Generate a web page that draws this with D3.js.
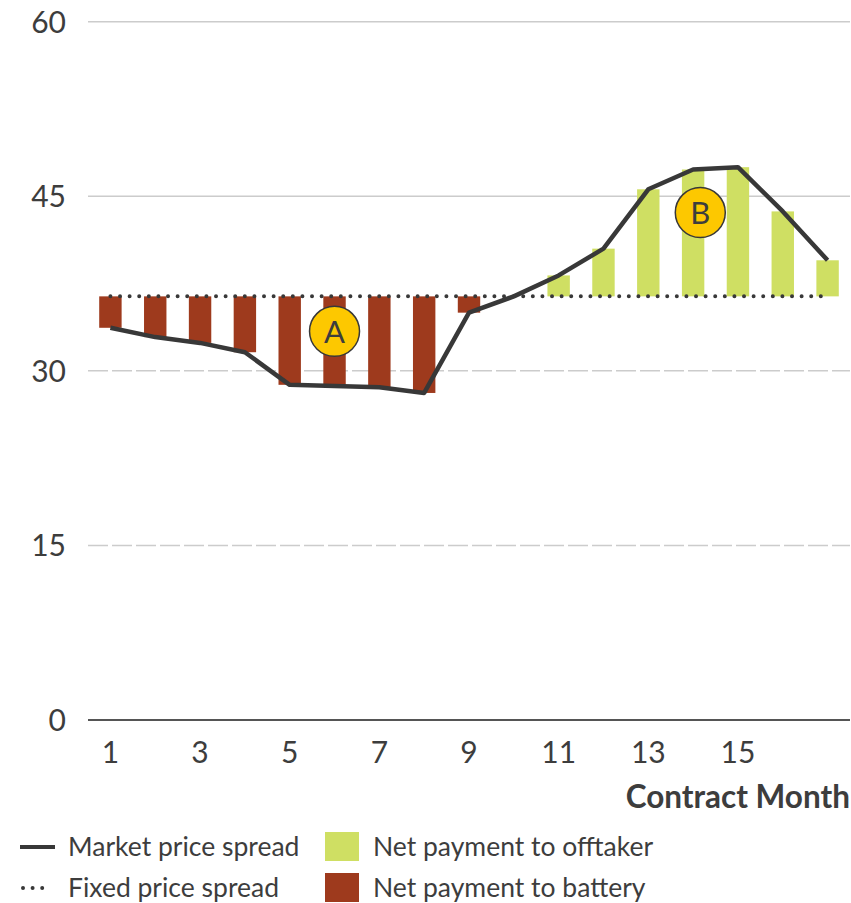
<!DOCTYPE html>
<html>
<head>
<meta charset="utf-8">
<script src="https://cdn.jsdelivr.net/npm/d3@7"></script>
<style>
  body { margin: 0; background: #fff; }
  text { font-family: Lato, "Open Sans", sans-serif; fill: #3d3d3d; }
</style>
</head>
<body>
<script>
// chart data
const months = d3.range(1, 18)
const marketSpread = [33.7, 32.9, 32.4, 31.6, 28.8, 28.7, 28.6, 28.1, 35.0, 36.4,
                      38.2, 40.5, 45.6, 47.3, 47.5, 43.7, 39.5]
const fixedSpread = 36.4
const yTicks = [0, 15, 30, 45, 60]
const xTickLabels = [1, 3, 5, 7, 9, 11, 13, 15]
const annotations = [
  { label: "A", month: 6, offset: 0, value: 33.4 },
  { label: "B", month: 14, offset: 0.16, value: 43.6 }
]
const legendItems = [
  { kind: "line", text: "Market price spread" },
  { kind: "dots", text: "Fixed price spread" },
  { kind: "rect", text: "Net payment to offtaker", color: "#cfdf63" },
  { kind: "rect", text: "Net payment to battery", color: "#9e3a1d" }
]

const W = 851, H = 903
const RED = "#9e3a1d", GREEN = "#cfdf63", INK = "#383838"

const svg = d3.select("body").append("svg")
  .attr("width", W).attr("height", H)

const x = d3.scaleBand().domain(months).range([88, 850]).paddingInner(0.5).paddingOuter(0.25)
const y = d3.scaleLinear().domain([0, 60]).range([720, 21.7])
const cx = m => x(m) + x.bandwidth() / 2

// grid
const grid = svg.append("g")
grid.selectAll("line").data(yTicks.filter(d => d > 0)).join("line")
  .attr("x1", 88).attr("x2", 850)
  .attr("y1", d => y(d)).attr("y2", d => y(d))
  .attr("stroke", "#cccccc").attr("stroke-width", 1.5)
  .attr("stroke-dasharray", d => d >= 45 ? null : "20,4")

// y labels
svg.append("g").selectAll("text").data(yTicks).join("text")
  .attr("x", 66).attr("y", d => y(d) + 11)
  .attr("text-anchor", "end").attr("font-size", 30)
  .text(d => d)

// bars
svg.append("g").selectAll("rect").data(months.map((m, i) => [m, marketSpread[i]])).join("rect")
  .attr("x", d => x(d[0]))
  .attr("width", x.bandwidth())
  .attr("y", d => y(Math.max(d[1], fixedSpread)))
  .attr("height", d => Math.abs(y(d[1]) - y(fixedSpread)))
  .attr("fill", d => d[1] > fixedSpread ? GREEN : RED)

// x axis line
svg.append("line")
  .attr("x1", 88).attr("x2", 850).attr("y1", y(0)).attr("y2", y(0))
  .attr("stroke", "#555").attr("stroke-width", 2)

svg.append("g").selectAll("text").data(xTickLabels).join("text")
  .attr("x", d => cx(d)).attr("y", 763)
  .attr("text-anchor", "middle").attr("font-size", 30)
  .text(d => d)

svg.append("text")
  .attr("x", 850).attr("y", 808)
  .attr("text-anchor", "end").attr("font-size", 31.5).attr("font-weight", "bold")
  .text("Contract Month")

// fixed price spread (dotted)
svg.append("line")
  .attr("x1", cx(1)).attr("x2", cx(17) - 6)
  .attr("y1", y(fixedSpread)).attr("y2", y(fixedSpread))
  .attr("stroke", INK).attr("stroke-width", 4)
  .attr("stroke-linecap", "round").attr("stroke-dasharray", "0,9.6")

// market price spread
const line = d3.line().x((d, i) => cx(months[i])).y(d => y(d))
svg.append("path").datum(marketSpread)
  .attr("d", line)
  .attr("fill", "none").attr("stroke", INK).attr("stroke-width", 4.5)
  .attr("stroke-linejoin", "round")

// annotation badges
const badge = svg.append("g").selectAll("g").data(annotations).join("g")
  .attr("transform", d => `translate(${cx(d.month) + d.offset * x.step()},${y(d.value)})`)
badge.append("circle").attr("r", 25)
  .attr("fill", "#fdc800").attr("stroke", INK).attr("stroke-width", 1.5)
badge.append("text").attr("text-anchor", "middle").attr("y", 11.5)
  .attr("font-size", 31).text(d => d.label)

// legend
const legend = svg.append("g")
legendItems.forEach((d, i) => {
  const col = i < 2 ? 0 : 1
  const row = i % 2
  const gx = col === 0 ? 20 : 325
  const gy = 847 + row * 41
  const g = legend.append("g").attr("transform", `translate(${gx},${gy})`)
  if (d.kind === "line") {
    g.append("line").attr("x1", 0).attr("x2", 35).attr("stroke", INK).attr("stroke-width", 4)
  } else if (d.kind === "dots") {
    g.append("line").attr("x1", 3).attr("x2", 26).attr("stroke", INK).attr("stroke-width", 4)
      .attr("stroke-linecap", "round").attr("stroke-dasharray", "0,9.6")
  } else {
    g.append("rect").attr("x", 0).attr("y", -15).attr("width", 34).attr("height", 29).attr("fill", d.color)
  }
  g.append("text").attr("x", 48).attr("y", 9)
    .attr("font-size", 26.5).text(d.text)
})
</script>
</body>
</html>
